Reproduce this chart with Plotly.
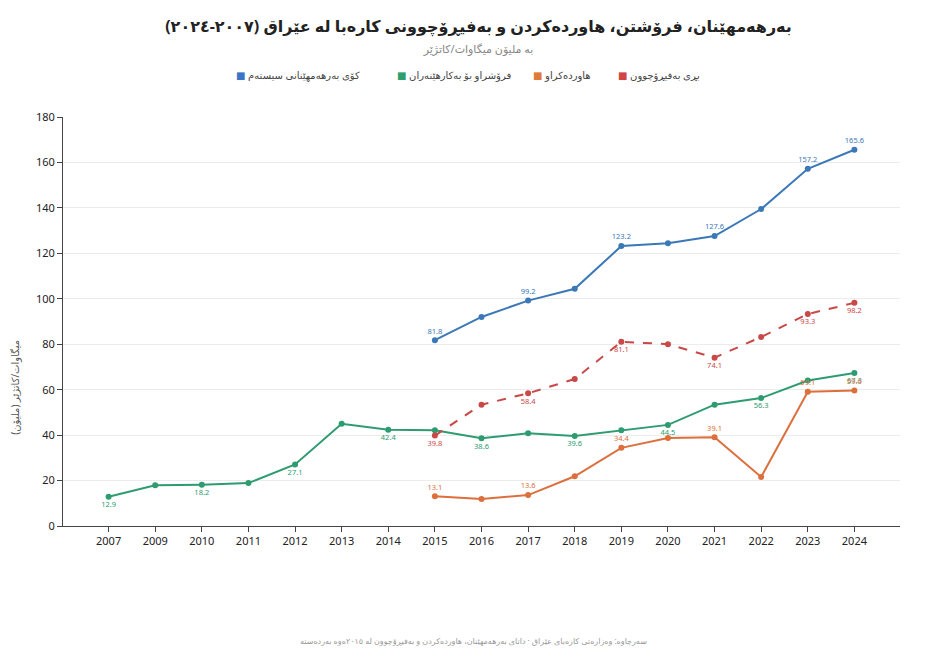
import plotly.graph_objects as go

years = ["2007", "2009", "2010", "2011", "2012", "2013", "2014", "2015", "2016",
         "2017", "2018", "2019", "2020", "2021", "2022", "2023", "2024"]

# ملیۆن میگاوات/کاتژێر - داتا تەنها لە ٢٠١٥ەوە بۆ بەرهەمهێنان، هاوردە و بەفیڕۆچوون
production = [None] * 7 + [81.8, 92.0, 99.2, 104.4, 123.2, 124.4, 127.6, 139.5, 157.2, 165.6]
sold = [12.9, 17.9, 18.2, 18.9, 27.1, 45.0, 42.4, 42.1, 38.6, 40.8, 39.6, 42.1,
        44.5, 53.4, 56.3, 64.0, 67.3]
imported = [None] * 7 + [13.1, 11.9, 13.6, 21.9, 34.4, 38.7, 39.1, 21.6, 59.1, 59.6]
losses = [None] * 7 + [39.8, 53.4, 58.4, 64.7, 81.1, 80.0, 74.1, 83.2, 93.3, 98.2]

names = ["کۆی بەرهەمهێنانی سیستەم", "فرۆشراو بۆ بەکارهێنەران", "هاوردەکراو", "بڕی بەفیڕۆچوون"]
colors = ["#3b78b8", "#2e9c70", "#dc6f3c", "#c94848"]
key_colors = ["#3a74c4", "#2e9e6e", "#e07a3a", "#d24545"]

title = "بەرهەمهێنان، فرۆشتن، هاوردەکردن و بەفیڕۆچوونی کارەبا لە عێراق (٢٠٠٧-٢٠٢٤)"
subtitle = "بە ملیۆن میگاوات/کاتژێر"
y_title = "میگاوات/کاتژێر (ملیۆن)"
source = "سەرچاوە: وەزارەتی کارەبای عێراق · داتای بەرهەمهێنان، هاوردەکردن و بەفیڕۆچوون لە ٢٠١٥ەوە بەردەستە"

FONT = "Noto Sans, DejaVu Sans, sans-serif"


def point_labels(values):
    # label every other point from the first one, plus the last point
    idx = [i for i, v in enumerate(values) if v is not None]
    out = [""] * len(values)
    for k, i in enumerate(idx):
        if k % 2 == 0 or i == idx[-1]:
            out[i] = f"{values[i]:.1f}"
    return out


series = [
    (production, "top center", "solid"),
    (sold, "bottom center", "solid"),
    (imported, "top center", "solid"),
    (losses, "bottom center", "dash"),
]

fig = go.Figure()

for (vals, pos, dash), name, col in zip(series, names, colors):
    fig.add_trace(go.Scatter(
        x=years, y=vals, name=name, mode="lines+markers+text",
        line=dict(color=col, width=2, dash=dash),
        marker=dict(color=col, size=6),
        text=point_labels(vals), textposition=pos,
        textfont=dict(size=7.5, color=col, family=FONT),
        showlegend=False, connectgaps=False,
    ))

# legend drawn as a row of annotations (key square left of each label)
legend_x = [0.281, 0.467, 0.596, 0.712]
annotations = [
    dict(text=f"<span style='color:{kc}'>■</span> {n}", xref="paper", yref="paper",
         x=lx, y=1.103, xanchor="center", yanchor="middle", showarrow=False,
         font=dict(size=10, color="#444"))
    for n, kc, lx in zip(names, key_colors, legend_x)
]
annotations += [
    dict(text=y_title, xref="paper", yref="paper", x=-0.0575, y=0.34,
         xanchor="center", yanchor="middle",
         textangle=-90, showarrow=False, font=dict(size=10, color="#555")),
    dict(text=source, xref="paper", yref="paper", x=0.49, y=-0.279,
         xanchor="center", yanchor="middle",
         showarrow=False, font=dict(size=8, color="#999")),
]

fig.update_layout(
    width=941, height=659,
    paper_bgcolor="white", plot_bgcolor="white",
    font=dict(family=FONT, size=11, color="#333"),
    margin=dict(l=55, r=49, t=109, b=141),
    title=dict(
        text=f"<b>{title}</b><br><span style='font-size:11px;color:#888'>{subtitle}</span>",
        x=0.5, xanchor="center", y=0.964, yanchor="top",
        font=dict(size=16, color="#222", family=FONT),
    ),
    showlegend=False,
    annotations=annotations,
)

fig.update_xaxes(
    type="category", showline=True, linecolor="#444", linewidth=1,
    ticks="outside", ticklen=5, tickcolor="#444", showgrid=False,
    tickfont=dict(size=11, color="#222"),
)
fig.update_yaxes(
    range=[0, 180], dtick=20, showline=True, linecolor="#444", linewidth=1,
    ticks="outside", ticklen=5, tickcolor="#444",
    gridcolor="#ececec", zeroline=False,
    tickfont=dict(size=11, color="#222"),
)

fig.write_html("out.html")
